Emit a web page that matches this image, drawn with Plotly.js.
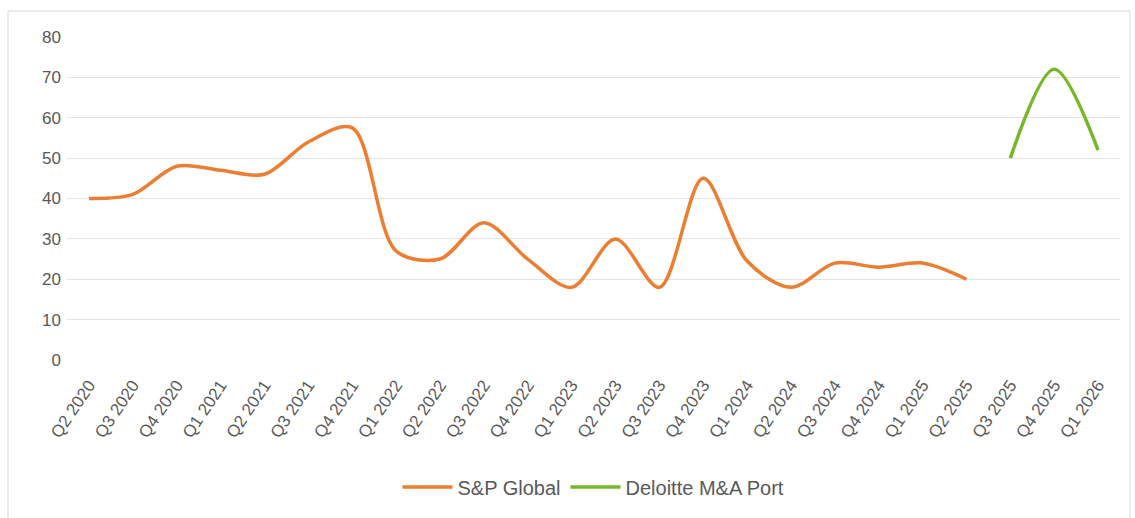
<!DOCTYPE html>
<html>
<head>
<meta charset="utf-8">
<script src="https://cdn.plot.ly/plotly-3.0.1.min.js"></script>
<style>html,body{margin:0;padding:0;background:#fff;}#chart{width:1135px;height:518px;}</style>
</head>
<body>
<div id="chart"></div>
<script>
const categories = ["Q2 2020","Q3 2020","Q4 2020","Q1 2021","Q2 2021","Q3 2021","Q4 2021","Q1 2022","Q2 2022","Q3 2022","Q4 2022","Q1 2023","Q2 2023","Q3 2023","Q4 2023","Q1 2024","Q2 2024","Q3 2024","Q4 2024","Q1 2025","Q2 2025","Q3 2025","Q4 2025","Q1 2026"];
const spGlobal = [40,41,48,47,46,54,57.5,27,25,34,25,18,30,18,45,24.5,18,24,23,24,20,null,null,null];
const deloitte = [null,null,null,null,null,null,null,null,null,null,null,null,null,null,null,null,null,null,null,null,null,50,72,52];
const yTicks = [0,10,20,30,40,50,60,70,80];

const fontFam = "'Liberation Sans',Arial,sans-serif";
const W = 1135, H = 518, L = 67, R = 15, T = 37, B = 158;
const pw = W - L - R, ph = H - T - B;
const px = v => (v - L) / pw;
const py = v => (H - B - v) / ph;

const data = [
  {x: categories, y: spGlobal, name: "S&P Global", type: "scatter", mode: "lines",
   line: {color: "#ED7D31", width: 3.5, shape: "spline", smoothing: 0.9}, connectgaps: false},
  {x: categories, y: deloitte, name: "Deloitte M&A Port", type: "scatter", mode: "lines",
   line: {color: "#76B82A", width: 3.5, shape: "spline", smoothing: 0.9}, connectgaps: false}
];

const layout = {
  width: W, height: H,
  margin: {l: L, r: R, t: T, b: B},
  paper_bgcolor: "#ffffff", plot_bgcolor: "#ffffff",
  font: {family: fontFam, color: "#595959", size: 17},
  showlegend: true,
  legend: {orientation: "h", x: 0.5, xanchor: "center", y: py(487), yanchor: "middle",
           font: {size: 20, color: "#595959", family: fontFam}, traceorder: "normal",
           itemwidth: 50, tracegroupgap: 10},
  xaxis: {type: "category", categoryorder: "array", categoryarray: categories,
          tickangle: -56, showgrid: false, zeroline: false, showline: false, ticks: "",
          ticklabelstandoff: 11,
          tickfont: {size: 17, color: "#595959"}, range: [-0.5, categories.length - 0.5], fixedrange: true},
  yaxis: {range: [0, 80], tickvals: yTicks, ticktext: yTicks.map(String), showgrid: true,
          gridcolor: "#E3E3E3", gridwidth: 1.2, zeroline: false, showline: false, ticks: "",
          ticklabelstandoff: 5,
          tickfont: {size: 17, color: "#595959"}, automargin: false, fixedrange: true},
  shapes: [
    {type: "rect", xref: "paper", yref: "paper", x0: px(8), x1: px(1130), y0: py(520), y1: py(11),
     line: {color: "#D9D9D9", width: 1}, fillcolor: "rgba(0,0,0,0)", layer: "below"}
  ]
};

Plotly.newPlot("chart", data, layout, {staticPlot: true, displayModeBar: false});
</script>
</body>
</html>
